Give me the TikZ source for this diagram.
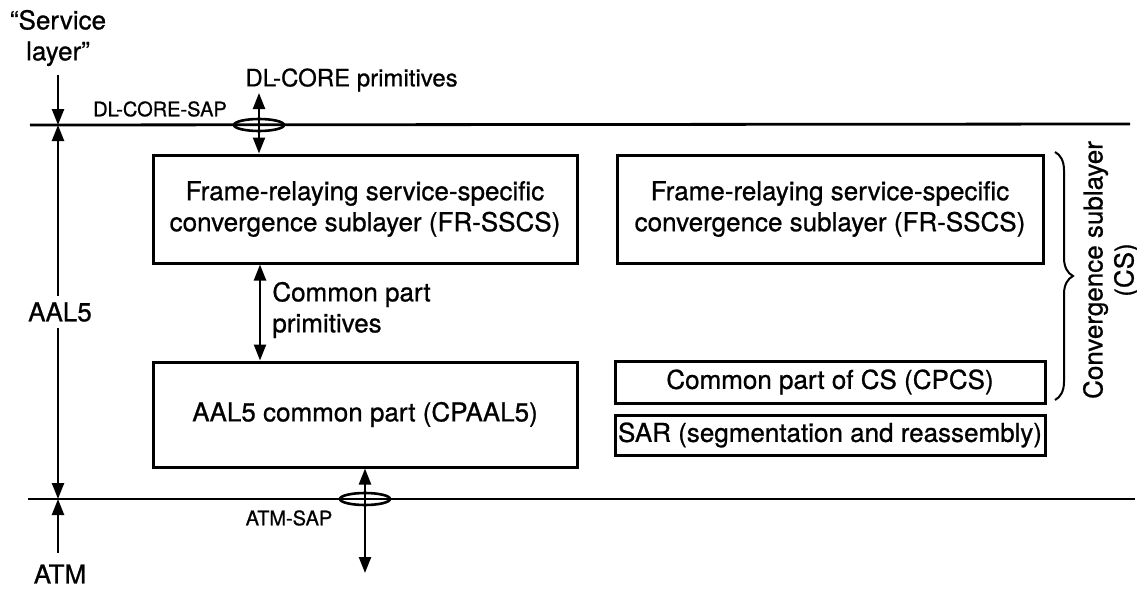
\documentclass[tikz,border=0pt]{standalone}
\usepackage{fontspec}
\setmainfont{TeX Gyre Heros}[UprightFeatures={FakeBold=0.8}]
\usetikzlibrary{arrows.meta,decorations.pathreplacing,shapes.geometric}
\tikzset{
  box/.style={draw,line width=1.5pt,inner sep=0pt,font=\fontsize{13}{15.5}\selectfont,align=center},
  lay/.style={line width=1.4pt},
  dbl/.style={line width=1.2pt,{Triangle[length=8pt,width=6pt]}-{Triangle[length=8pt,width=6pt]}},
  one/.style={line width=1.2pt,-{Triangle[length=8pt,width=6pt]}},
  lbl/.style={font=\fontsize{13}{15.5}\selectfont,inner sep=1pt},
  small/.style={font=\fontsize{10}{12}\selectfont,inner sep=1pt},
  sap/.style={ellipse,draw,line width=1.3pt,minimum width=25pt,minimum height=6pt,inner sep=0pt}
}
\begin{document}
\begin{tikzpicture}[x=0.5pt,y=-0.5pt]
\useasboundingbox (0,0) rectangle (1137,589);
% layer lines
\coordinate (TL) at (30,125);
\coordinate (TR) at (1130,124);
\coordinate (BL) at (28,499);
\coordinate (BR) at (1135,499);
\draw[lay] (TL) -- (TR);
\draw[lay] (BL) -- (BR);
% left scale
\coordinate (LT) at (58,125);
\coordinate (LB) at (58,499);
\coordinate (Ltop) at (58,75);
\coordinate (Lbot) at (58,553);
\draw[one] (Ltop) -- (LT);
\draw[dbl] (LT) -- (LB);
\draw[one] (Lbot) -- (LB);
\node[lbl,align=center] (svc) at (58,38) {“Service\\layer”};
\node[lbl,fill=white,inner sep=3pt] (aal5) at (60,312) {AAL5};
\node[lbl] (atm) at (60,574) {ATM};
% boxes
\node[box,minimum width=212pt,minimum height=54pt] (fr1) at (365,209) {Frame-relaying service-specific\\convergence sublayer (FR-SSCS)};
\node[box,minimum width=213pt,minimum height=54pt] (fr2) at (830,209) {Frame-relaying service-specific\\convergence sublayer (FR-SSCS)};
\node[box,minimum width=212pt,minimum height=52.5pt] (cp) at (365,414.5) {AAL5 common part (CPAAL5)};
\node[box,minimum width=215pt,minimum height=21pt] (cpcs) at (830,382) {Common part of CS (CPCS)};
\node[box,minimum width=215pt,minimum height=20pt] (sar) at (830,435) {SAR (segmentation and reassembly)};
% DL-CORE SAP
\coordinate (dlt) at (259,93);
\draw[dbl] (dlt) -- (dlt |- fr1.north);
\node[sap] (dlsap) at (259,125) {};
\node[small] (dlsaplbl) at (160,109) {DL-CORE-SAP};
\node[font=\fontsize{12}{14}\selectfont,anchor=west,inner sep=1pt] (dlprim) at (243,80) {DL-CORE primitives};
% common part primitives
\draw[dbl] (260,0 |- fr1.south) -- (260,0 |- cp.north);
\node[lbl,anchor=west,align=left] (cpprim) at (270,310) {Common part\\primitives};
% ATM SAP
\coordinate (atmb) at (365,573);
\draw[dbl] (cp.south) -- (atmb);
\node[sap] (atmsap) at (365,499) {};
\node[small] (atmsaplbl) at (289,518) {ATM-SAP};
% brace
\draw[line width=1pt,decorate,decoration={brace,amplitude=9pt}] (1055,152) -- (1055,400);
\node[lbl,rotate=90,align=center] (cs) at (1111,270) {Convergence sublayer\\(CS)};
\end{tikzpicture}
\end{document}
